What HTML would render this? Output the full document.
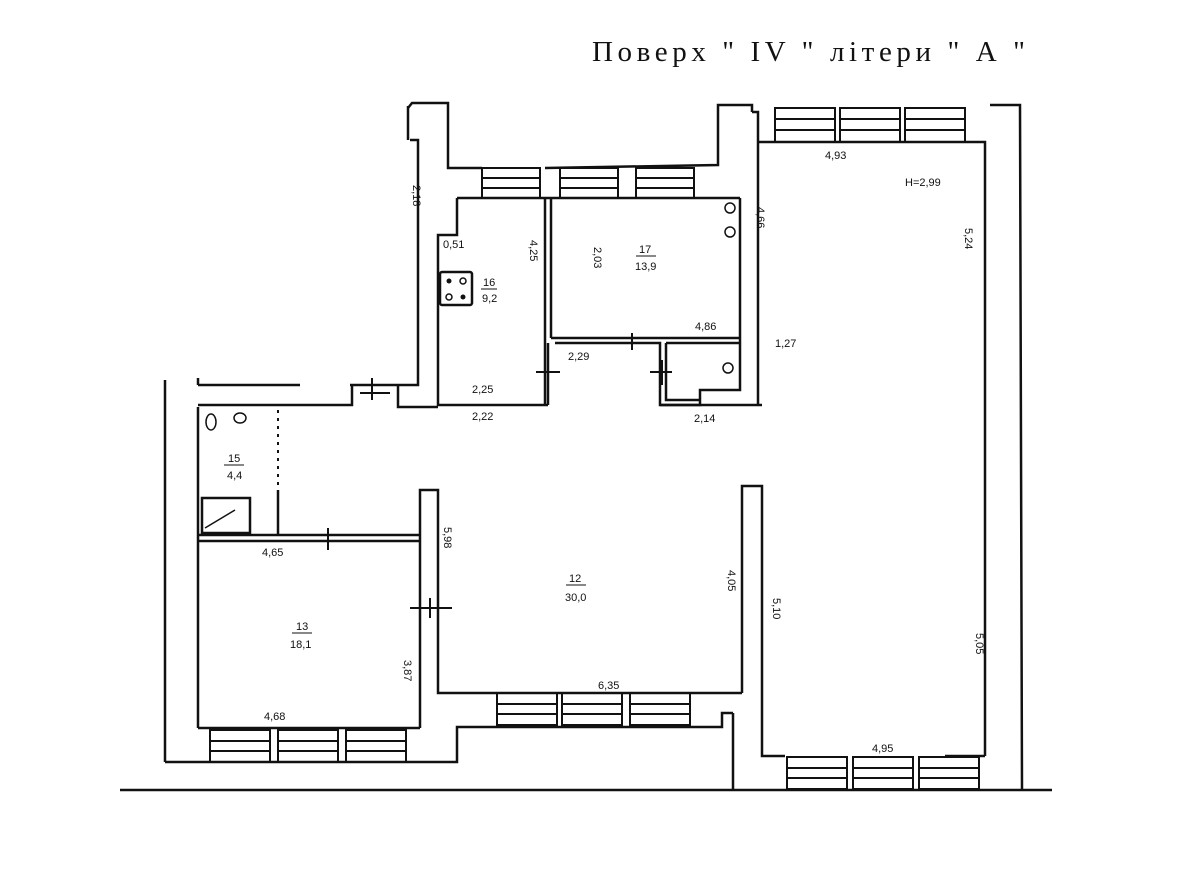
<!DOCTYPE html>
<html><head><meta charset="utf-8"><style>
html,body{margin:0;padding:0;background:#fff;}
svg{display:block}
text{font-family:"Liberation Sans",sans-serif;font-size:11px;fill:#111;}
</style></head><body>
<svg width="1200" height="896" viewBox="0 0 1200 896" xmlns="http://www.w3.org/2000/svg">
<rect width="1200" height="896" fill="#fff"/>
<text x="592" y="61" textLength="433" lengthAdjust="spacing" style="font-family:'Liberation Serif','Noto Serif CJK SC',serif;font-size:29px">Поверх " IV "  літери " А "</text>
<g fill="none" stroke="#111" stroke-width="2.5">
<polyline points="408,108 412,103 448,103 448,168 482,168"/>
<line x1="408" y1="106" x2="408" y2="140"/>
<polyline points="410,140 418,140 418,385 350,385"/>
<polyline points="198,385 300,385"/>
<polyline points="198,378 198,385"/>
<polyline points="198,405 352,405 352,385"/>
<polyline points="398,385 398,407 438,407"/>
<line x1="165" y1="380" x2="165" y2="762"/>
<polyline points="545,168 718,165 718,105 752,105 752,112"/>
<polyline points="457,198 740,198"/>
<polyline points="457,198 457,235 438,235 438,405 548,405"/>
<line x1="545" y1="198" x2="545" y2="405"/>
<line x1="551" y1="198" x2="551" y2="338"/>
<polyline points="551,338 740,338"/>
<polyline points="555,343 660,343 660,405 700,405 700,390 740,390 740,198"/>
<line x1="666" y1="343" x2="740" y2="343"/>
<polyline points="666,343 666,400 700,400"/>
<polyline points="660,405 762,405"/>
<line x1="548" y1="343" x2="548" y2="405"/>
<line x1="758" y1="142" x2="758" y2="405"/>
<polyline points="758,142 985,142 985,756"/>
<polyline points="990,105 1020,105 1022,790"/>
<polyline points="752,112 758,112 758,142"/>
<polyline points="742,693 742,486 762,486 762,756 785,756"/>
<line x1="945" y1="756" x2="985" y2="756"/>
<line x1="733" y1="713" x2="733" y2="790"/>
<line x1="198" y1="407" x2="198" y2="728"/>
<line x1="198" y1="535" x2="420" y2="535"/>
<line x1="198" y1="541" x2="420" y2="541"/>
<polyline points="420,541 420,490 438,490 438,693 742,693"/>
<line x1="420" y1="541" x2="420" y2="728"/>
<line x1="198" y1="728" x2="420" y2="728"/>
<polyline points="165,762 457,762 457,727 722,727 722,713 733,713"/>
<line x1="278" y1="490" x2="278" y2="535"/>
<rect x="202" y="498" width="48" height="35"/>
<rect x="440" y="272" width="32" height="33" rx="2"/>
</g>
<line x1="278" y1="410" x2="278" y2="488" stroke="#111" stroke-width="2" stroke-dasharray="3,5"/>
<line x1="120" y1="790" x2="1052" y2="790" stroke="#111" stroke-width="2.5"/>
<g fill="none" stroke="#111" stroke-width="2">
<g id="w1"><rect x="482" y="168" width="58" height="30"/><line x1="482" y1="178" x2="540" y2="178"/><line x1="482" y1="188" x2="540" y2="188"/></g>
<use href="#w1" x="78"/><use href="#w1" x="154"/>
<g id="w2"><rect x="775" y="108" width="60" height="34"/><line x1="775" y1="119" x2="835" y2="119"/><line x1="775" y1="130" x2="835" y2="130"/></g>
<use href="#w2" x="65"/><use href="#w2" x="130"/>
<g id="w3"><rect x="210" y="730" width="60" height="32"/><line x1="210" y1="741" x2="270" y2="741"/><line x1="210" y1="751" x2="270" y2="751"/></g>
<use href="#w3" x="68"/><use href="#w3" x="136"/>
<use href="#w3" x="287" y="-37"/><use href="#w3" x="352" y="-37"/><use href="#w3" x="420" y="-37"/>
<use href="#w3" x="577" y="27"/><use href="#w3" x="643" y="27"/><use href="#w3" x="709" y="27"/>
</g>
<g stroke="#111" stroke-width="2">
<line x1="372" y1="378" x2="372" y2="400"/><line x1="360" y1="393" x2="390" y2="393"/>
<line x1="536" y1="372" x2="560" y2="372"/><line x1="548" y1="360" x2="548" y2="385"/>
<line x1="650" y1="372" x2="672" y2="372"/><line x1="662" y1="360" x2="662" y2="385"/>
<line x1="632" y1="333" x2="632" y2="350"/>
<line x1="328" y1="528" x2="328" y2="550"/>
<line x1="410" y1="608" x2="452" y2="608"/><line x1="430" y1="598" x2="430" y2="618"/>
</g>
<g fill="#111">
<circle cx="449" cy="281" r="2.5"/><circle cx="463" cy="297" r="2.5"/>
</g>
<g fill="none" stroke="#111" stroke-width="1.5">
<circle cx="463" cy="281" r="3"/><circle cx="449" cy="297" r="3"/>
<circle cx="730" cy="208" r="5"/><circle cx="730" cy="232" r="5"/><circle cx="728" cy="368" r="5"/>
<ellipse cx="211" cy="422" rx="5" ry="8"/><ellipse cx="240" cy="418" rx="6" ry="5"/>
<line x1="205" y1="528" x2="235" y2="510"/>
</g>
<text x="443" y="248">0,51</text>
<text x="483" y="286">16</text><line x1="481" y1="289" x2="497" y2="289" stroke="#111"/><text x="482" y="302">9,2</text>
<text x="639" y="253">17</text><line x1="636" y1="256" x2="656" y2="256" stroke="#111"/><text x="635" y="270">13,9</text>
<text x="228" y="462">15</text><line x1="224" y1="465" x2="244" y2="465" stroke="#111"/><text x="227" y="479">4,4</text>
<text x="296" y="630">13</text><line x1="292" y1="633" x2="312" y2="633" stroke="#111"/><text x="290" y="648">18,1</text>
<text x="569" y="582">12</text><line x1="566" y1="585" x2="586" y2="585" stroke="#111"/><text x="565" y="601">30,0</text>
<text x="472" y="393">2,25</text><text x="472" y="420">2,22</text>
<text x="568" y="360">2,29</text><text x="695" y="330">4,86</text>
<text x="694" y="422">2,14</text><text x="775" y="347">1,27</text>
<text x="825" y="159">4,93</text><text x="905" y="186">H=2,99</text>
<text x="262" y="556">4,65</text><text x="264" y="720">4,68</text>
<text x="598" y="689">6,35</text><text x="872" y="752">4,95</text>
<g>
<text transform="translate(530,240) rotate(90)">4,25</text>
<text transform="translate(594,247) rotate(90)">2,03</text>
<text transform="translate(757,207) rotate(90)">4,66</text>
<text transform="translate(965,228) rotate(90)">5,24</text>
<text transform="translate(444,527) rotate(90)">5,98</text>
<text transform="translate(404,660) rotate(90)">3,87</text>
<text transform="translate(728,570) rotate(90)">4,05</text>
<text transform="translate(773,598) rotate(90)">5,10</text>
<text transform="translate(976,633) rotate(90)">5,05</text>
<text transform="translate(413,185) rotate(90)">2,18</text>
</g>
</svg>
</body></html>
